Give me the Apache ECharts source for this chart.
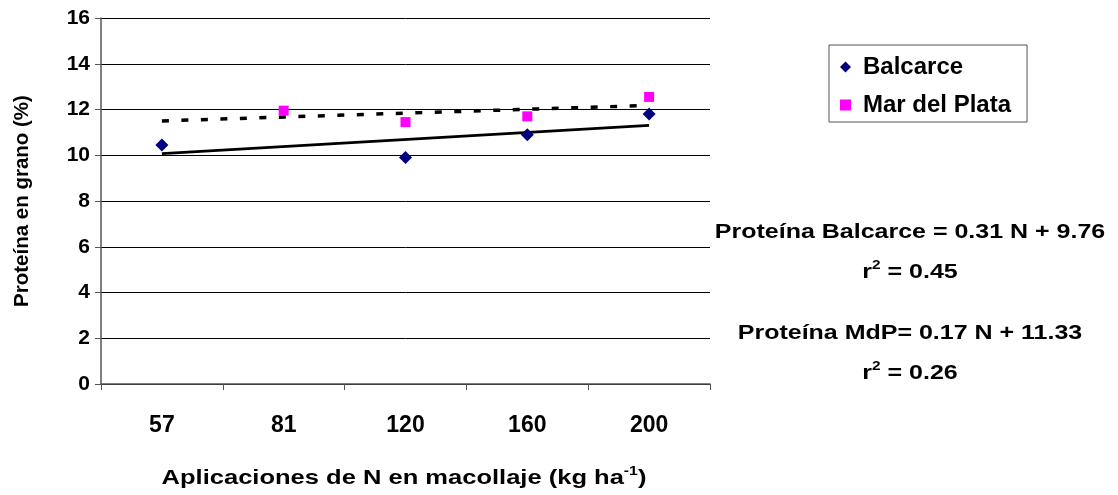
<!DOCTYPE html>
<html><head><meta charset="utf-8">
<script src="https://cdn.jsdelivr.net/npm/echarts/dist/echarts.min.js"></script>
<style>html,body{margin:0;padding:0;background:#fff}#c{width:1118px;height:495px}</style>
</head><body><div id="c"></div>
<script>
const categories = ['57', '81', '120', '160', '200'];
const balcarce = [10.45, null, 9.9, 10.9, 11.8];
const marDelPlata = [null, 11.95, 11.45, 11.7, 12.55];
const balcarceTrend = [10.07, null, null, null, 11.31];
const mdpTrend = [11.50, null, null, null, 12.18];
const yMin = 0, yMax = 16, yStep = 2;
const yTitle = 'Proteína en grano (%)';
const xTitle = 'Aplicaciones de N en macollaje (kg ha';
const eqBalcarce = 'Proteína Balcarce = 0.31 N + 9.76';
const r2Balcarce = ' = 0.45';
const eqMdP = 'Proteína MdP= 0.17 N + 11.33';
const r2MdP = ' = 0.26';

const FONT = '"Liberation Sans", Arial, sans-serif';
const SX = 1.19;
const chart = echarts.init(document.getElementById('c'), null, {renderer: 'canvas'});
const rich = {
  b: {fontFamily: FONT, fontWeight: 'bold', fontSize: 21, color: '#000', lineHeight: 26},
  sup: {fontFamily: FONT, fontWeight: 'bold', fontSize: 13, color: '#000', lineHeight: 26, verticalAlign: 'top', padding: [0, 0, 8, 0]}
};
function txt(x, y, text, sx) {
  return {
    type: 'text', x: x, y: y, scaleX: sx || SX,
    style: {text: text, rich: rich, font: 'bold 21px ' + FONT, fill: '#000', align: 'center', verticalAlign: 'middle'}
  };
}
chart.setOption({
  animation: false,
  backgroundColor: '#fff',
  grid: {left: 101, top: 18, width: 609, height: 366, containLabel: false},
  legend: {
    left: 829, top: 45, orient: 'vertical',
    backgroundColor: '#fff', borderColor: '#555', borderWidth: 1,
    padding: [10, 16, 5, 11], itemGap: 14, itemWidth: 11, itemHeight: 11,
    textStyle: {fontFamily: FONT, fontWeight: 'bold', fontSize: 24, color: '#000', padding: [0, 0, 0, 7]},
    data: [
      {name: 'Balcarce', icon: 'diamond'},
      {name: 'Mar del Plata', icon: 'rect'}
    ]
  },
  xAxis: {
    type: 'category', data: categories, boundaryGap: true,
    axisLine: {lineStyle: {color: '#555', width: 1.5}},
    axisTick: {show: true, inside: false, length: 6, lineStyle: {color: '#555'}},
    axisLabel: {margin: 30, fontFamily: FONT, fontWeight: 'bold', fontSize: 23, color: '#000'},
    splitLine: {show: false}
  },
  yAxis: {
    type: 'value', min: yMin, max: yMax, interval: yStep,
    axisLine: {show: true, onZero: false, lineStyle: {color: '#555', width: 1.5}},
    axisTick: {show: true, inside: false, length: 6, lineStyle: {color: '#555'}},
    axisLabel: {margin: 11, fontFamily: FONT, fontWeight: 'bold', fontSize: 21, color: '#000'},
    splitLine: {show: true, lineStyle: {color: '#000', width: 1}}
  },
  series: [
    {
      name: 'Tendencia Balcarce', type: 'line', data: balcarceTrend, connectNulls: true,
      showSymbol: false, symbol: 'none', silent: true,
      lineStyle: {color: '#000', width: 2.8, type: 'solid'}, z: 2
    },
    {
      name: 'Tendencia MdP', type: 'line', data: mdpTrend, connectNulls: true,
      showSymbol: false, symbol: 'none', silent: true,
      lineStyle: {color: '#000', width: 3.5, type: [7, 12.5], cap: 'butt'}, z: 2
    },
    {
      name: 'Balcarce', type: 'line', data: balcarce, connectNulls: false,
      symbol: 'diamond', symbolSize: 13, showAllSymbol: true,
      itemStyle: {color: '#000080'}, lineStyle: {opacity: 0}, z: 3
    },
    {
      name: 'Mar del Plata', type: 'line', data: marDelPlata, connectNulls: false,
      symbol: 'rect', symbolSize: 10, showAllSymbol: true,
      itemStyle: {color: '#FF00FF'}, lineStyle: {opacity: 0}, z: 3
    }
  ],
  graphic: [
    {type: 'text', x: 22, y: 201, rotation: Math.PI / 2,
     style: {text: yTitle, font: 'bold 20.5px ' + FONT, fill: '#000', align: 'center', verticalAlign: 'middle'}},
    txt(404, 478, '{b|' + xTitle + '}{sup|-1}{b|)}', 1.215),
    txt(910, 232, '{b|' + eqBalcarce + '}'),
    txt(910, 272, '{b|r}{sup|2}{b|' + r2Balcarce + '}'),
    txt(910, 333, '{b|' + eqMdP + '}'),
    txt(910, 373, '{b|r}{sup|2}{b|' + r2MdP + '}')
  ]
});
</script></body></html>
